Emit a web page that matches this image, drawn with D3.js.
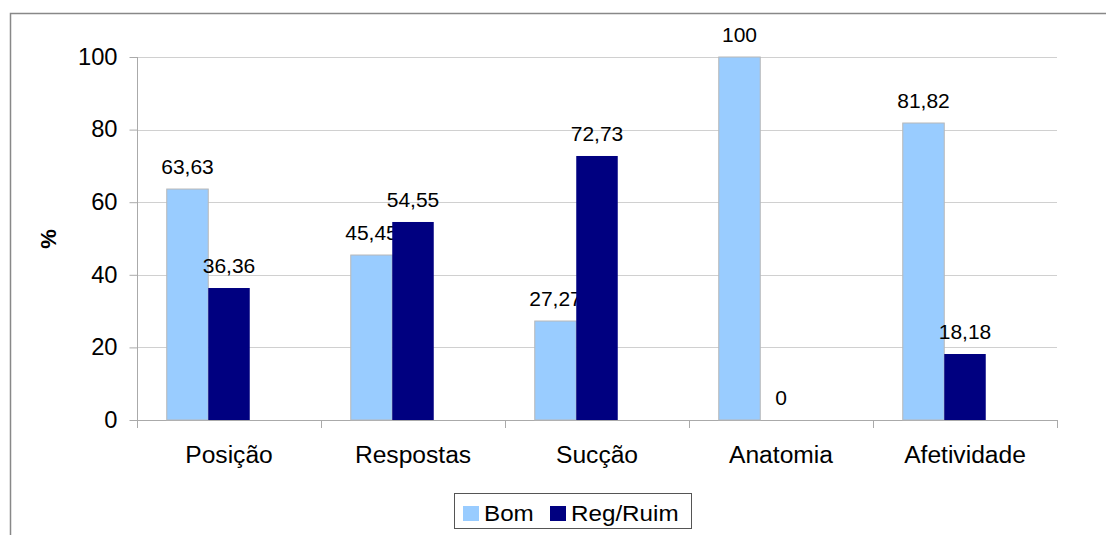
<!DOCTYPE html>
<html><head><meta charset="utf-8">
<script src="https://cdn.jsdelivr.net/npm/d3@7"></script>
<style>body{margin:0;background:#fff}svg{display:block;font-family:"Liberation Sans",Arial,sans-serif}</style>
</head><body>
<svg id="c" width="1106" height="535"></svg>
<script>
const categories = ["Posição","Respostas","Sucção","Anatomia","Afetividade"];
const seriesNames = ["Bom","Reg/Ruim"];
const bom = [63.63,45.45,27.27,100,81.82];
const regRuim = [36.36,54.55,72.73,0,18.18];
const bomLabels = ["63,63","45,45","27,27","100","81,82"];
const regLabels = ["36,36","54,55","72,73","0","18,18"];
const yTicks = [0,20,40,60,80,100];
const colors = ["#99CCFF","#000080"];

(function(){
const svg = d3.select("#c");
const pL=137, pR=1057, pT=57, pB=420;
const y = d3.scaleLinear().domain([0,100]).range([pB,pT]);
const x = d3.scaleBand().domain(categories).range([pL,pR]).padding(0);
const sub = d3.scaleBand().domain(["Bom","Reg/Ruim","_"]).range([0,x.bandwidth()]).paddingInner(0).paddingOuter(0.717);

function stretch(sel, f){
  sel.each(function(){
    const len = this.getComputedTextLength();
    if(len>0){ this.setAttribute("textLength", len*f); this.setAttribute("lengthAdjust","spacingAndGlyphs"); }
  });
}

// outer border
svg.append("rect").attr("x",10.5).attr("y",13.5).attr("width",1110).attr("height",540)
  .attr("fill","none").attr("stroke","#888").attr("stroke-width",1.5);

// gridlines
svg.append("g").selectAll("line").data(yTicks.filter(d=>d>0)).join("line")
  .attr("x1",pL).attr("x2",pR).attr("y1",d=>Math.round(y(d))+0.5).attr("y2",d=>Math.round(y(d))+0.5)
  .attr("stroke","#d0d0d0").attr("stroke-width",1);

// y axis
const ya = svg.append("g").attr("transform",`translate(${pL+0.5},0)`)
  .call(d3.axisLeft(y).tickValues(yTicks).tickSize(8).tickPadding(12));
ya.select(".domain").attr("stroke","#aaa").attr("d",`M0,${pT}V${pB+7}`);
ya.selectAll(".tick line").attr("stroke","#aaa");
ya.selectAll("text").attr("font-size",23).attr("fill","#000").attr("font-family","Liberation Sans, Arial, sans-serif");
stretch(ya.selectAll("text"),1.03);

// x axis
const xa = svg.append("g").attr("transform",`translate(0,${pB+0.5})`)
  .call(d3.axisBottom(x).tickSize(0).tickPadding(26));
xa.select(".domain").attr("stroke","#aaa").attr("d",`M${pL},0H${pR}`);
xa.selectAll(".tick line").remove();
xa.selectAll("text").attr("font-size",23).attr("fill","#000").attr("font-family","Liberation Sans, Arial, sans-serif");
stretch(xa.selectAll("text"),1.07);
const boundaries = categories.map(c=>x(c)).concat([pR]);
svg.append("g").selectAll("line").data(boundaries).join("line")
  .attr("x1",d=>Math.round(d)+0.5).attr("x2",d=>Math.round(d)+0.5).attr("y1",pB).attr("y2",pB+8)
  .attr("stroke","#aaa");

// bars
const data = [
  {name:"Bom", vals:bom, labels:bomLabels, color:colors[0], stroke:"#b8b8b8"},
  {name:"Reg/Ruim", vals:regRuim, labels:regLabels, color:colors[1], stroke:"none"}
];
data.forEach(s=>{
  const g = svg.append("g");
  g.selectAll("rect").data(categories).join("rect")
    .attr("x",(c)=>x(c)+sub(s.name))
    .attr("width",sub.bandwidth())
    .attr("y",(c,i)=>y(s.vals[i]))
    .attr("height",(c,i)=>y(0)-y(s.vals[i]))
    .attr("fill",s.color).attr("stroke",s.stroke).attr("stroke-width",1);
  const t = g.selectAll("text").data(categories).join("text")
    .attr("x",(c)=>x(c)+sub(s.name)+sub.bandwidth()/2)
    .attr("y",(c,i)=>y(s.vals[i])-15)
    .attr("text-anchor","middle").attr("font-size",20).attr("fill","#000")
    .text((c,i)=>s.labels[i]);
  stretch(t,1.05);
});

// y title
svg.append("text").attr("transform","translate(56,239) rotate(-90)")
  .attr("text-anchor","middle").attr("font-size",22).attr("font-weight","bold").text("%");

// legend
const lg = svg.append("g");
lg.append("rect").attr("x",454.5).attr("y",493.5).attr("width",237).attr("height",35)
  .attr("fill","#fff").attr("stroke","#555").attr("stroke-width",1);
const items = [{n:seriesNames[0],c:colors[0],x:463},{n:seriesNames[1],c:colors[1],x:550}];
items.forEach(it=>{
  lg.append("rect").attr("x",it.x).attr("y",506).attr("width",16).attr("height",15).attr("fill",it.c);
  const t = lg.append("text").attr("x",it.x+21).attr("y",521).attr("font-size",22).attr("fill","#000").text(it.n);
  stretch(t,1.1);
});
})();
</script>
</body></html>
